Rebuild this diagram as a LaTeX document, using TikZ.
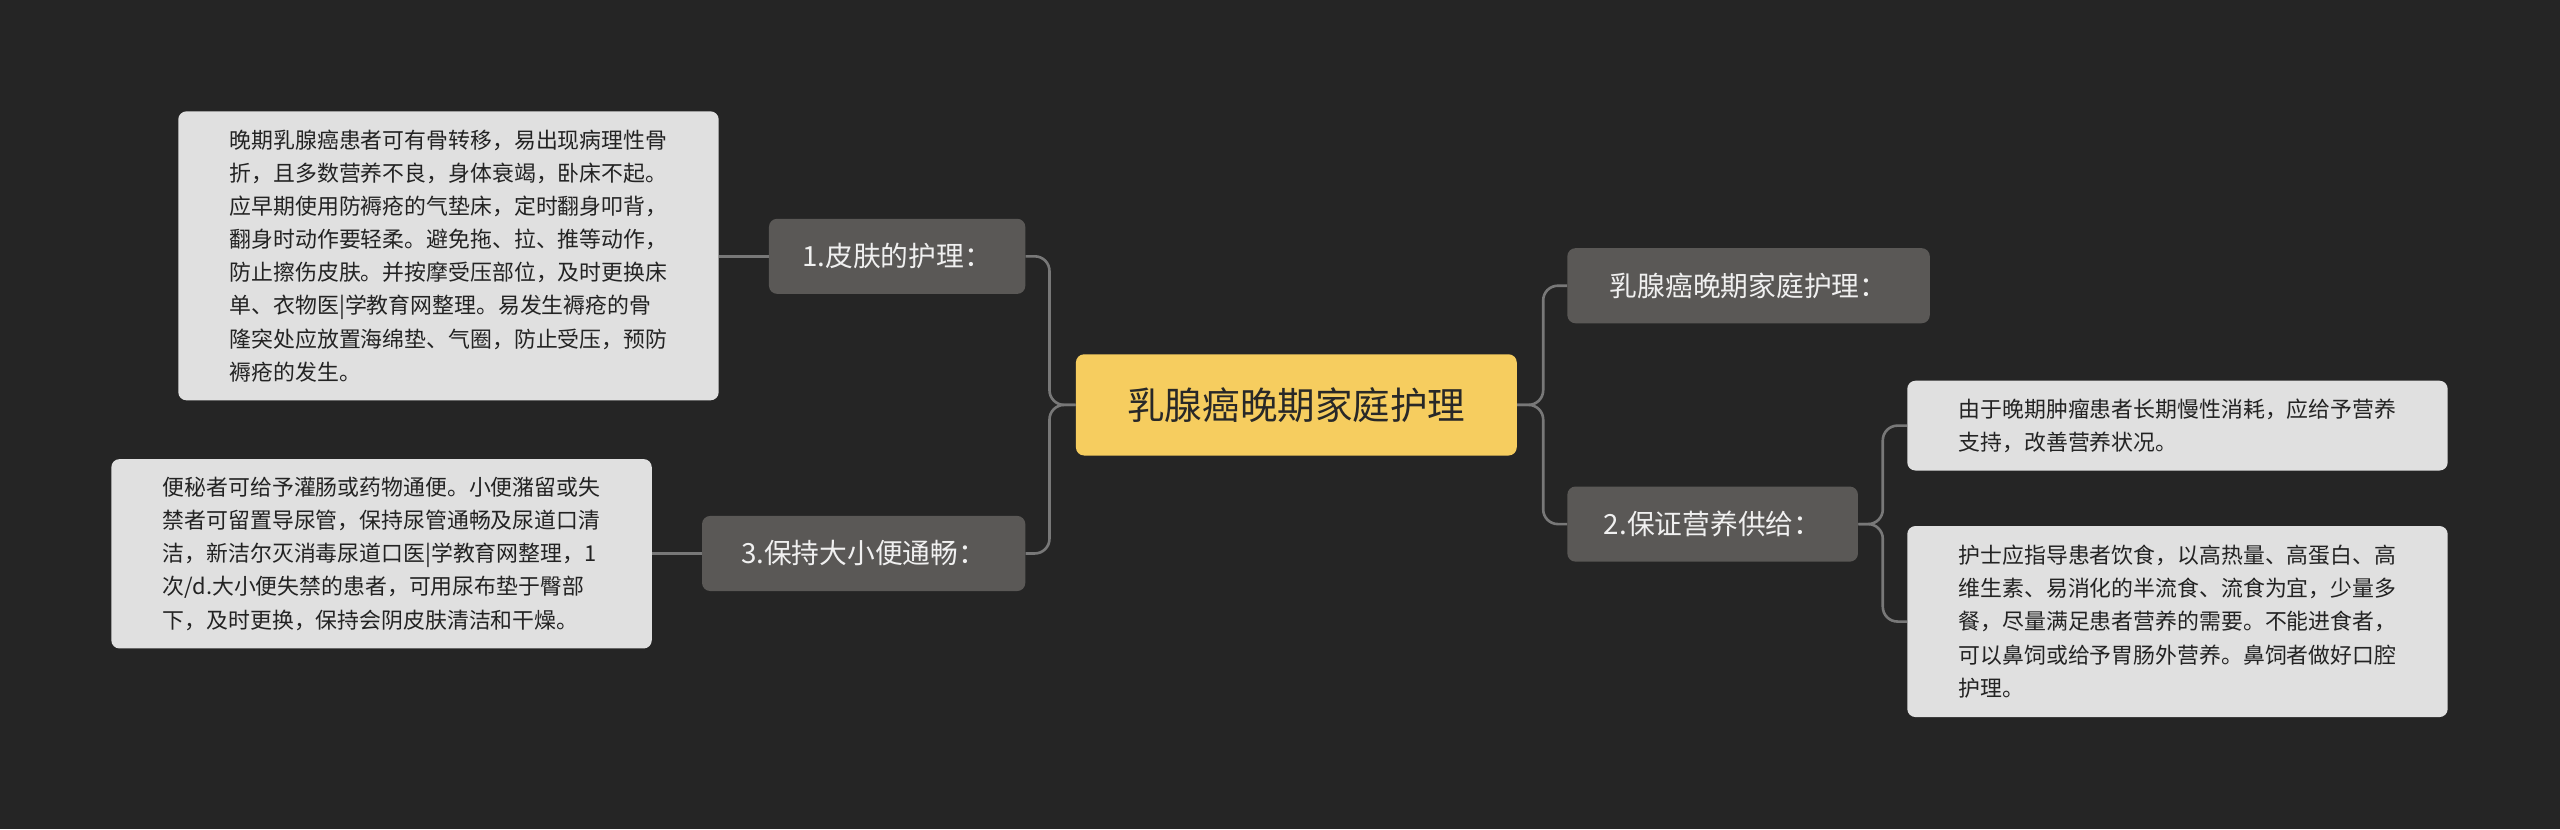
\documentclass[tikz,border=0pt]{standalone}
\usepackage{fontspec}
\setmainfont{Noto Sans CJK SC}
\definecolor{bgc}{RGB}{37,37,37}
\definecolor{rootc}{RGB}{246,205,95}
\definecolor{roott}{RGB}{40,40,40}
\definecolor{brc}{RGB}{90,88,86}
\definecolor{brt}{RGB}{240,240,240}
\definecolor{leafc}{RGB}{224,224,224}
\definecolor{leaft}{RGB}{35,35,35}
\definecolor{linec}{RGB}{120,120,120}
\begin{document}
\begin{tikzpicture}[x=1pt,y=-1pt,
  conn/.style={draw=linec, line width=1.6pt, rounded corners=9pt},
  rootbox/.style={fill=rootc, rounded corners=5pt, text=roott, font=\fontsize{23}{28}\selectfont, minimum width=270pt, minimum height=62pt, inner sep=0pt},
  brbox/.style={fill=brc, rounded corners=5pt, text=brt, font=\fontsize{17}{21}\selectfont, minimum height=46pt, inner sep=0pt},
  leafbox/.style={fill=leafc, rounded corners=5pt, text=leaft, font=\fontsize{13.4}{20.3}\selectfont, align=left, inner xsep=9pt, inner ysep=7pt, anchor=north west}
]
\fill[bgc] (0,0) rectangle (1568,508);
\useasboundingbox (0,0) rectangle (1568,508);
\node[rootbox] (root) at (794,248) {乳腺癌晚期家庭护理};
\node[brbox, minimum width=157pt] (b1) at (549.5,157) {1.皮肤的护理：};
\node[brbox, minimum width=198pt] (b3) at (529,339) {3.保持大小便通畅：};
\node[brbox, minimum width=222pt] (bt) at (1071,175) {乳腺癌晚期家庭护理：};
\node[brbox, minimum width=178pt] (b2) at (1049,321) {2.保证营养供给：};
\node[leafbox, minimum width=331pt, minimum height=177pt] (l1) at (109,68) {晚期乳腺癌患者可有骨转移，易出现病理性骨\\折，且多数营养不良，身体衰竭，卧床不起。\\应早期使用防褥疮的气垫床，定时翻身叩背，\\翻身时动作要轻柔。避免拖、拉、推等动作，\\防止擦伤皮肤。并按摩受压部位，及时更换床\\单、衣物医|学教育网整理。易发生褥疮的骨\\隆突处应放置海绵垫、气圈，防止受压，预防\\褥疮的发生。};
\node[leafbox, minimum width=331pt, minimum height=116pt] (l3) at (68,281) {便秘者可给予灌肠或药物通便。小便潴留或失\\禁者可留置导尿管，保持尿管通畅及尿道口清\\洁，新洁尔灭消毒尿道口医|学教育网整理，1\\次/d.大小便失禁的患者，可用尿布垫于臀部\\下，及时更换，保持会阴皮肤清洁和干燥。};
\node[leafbox, minimum width=331pt, minimum height=55pt] (l2a) at (1168,233) {由于晚期肿瘤患者长期慢性消耗，应给予营养\\支持，改善营养状况。};
\node[leafbox, minimum width=331pt, minimum height=117pt] (l2b) at (1168,322) {护士应指导患者饮食，以高热量、高蛋白、高\\维生素、易消化的半流食、流食为宜，少量多\\餐，尽量满足患者营养的需要。不能进食者，\\可以鼻饲或给予胃肠外营养。鼻饲者做好口腔\\护理。};
\draw[conn] (root.west) -- ++(-16,0) |- (b1.east);
\draw[conn] (root.west) -- ++(-16,0) |- (b3.east);
\draw[conn] (root.east) -- ++(16,0) |- (bt.west);
\draw[conn] (root.east) -- ++(16,0) |- (b2.west);
\draw[conn] (b2.east) -- ++(15,0) |- (l2a.west);
\draw[conn] (b2.east) -- ++(15,0) |- (l2b.west);
\draw[conn] (b1.west) -- (b1.west -| l1.east);
\draw[conn] (b3.west) -- (b3.west -| l3.east);
\end{tikzpicture}
\end{document}
